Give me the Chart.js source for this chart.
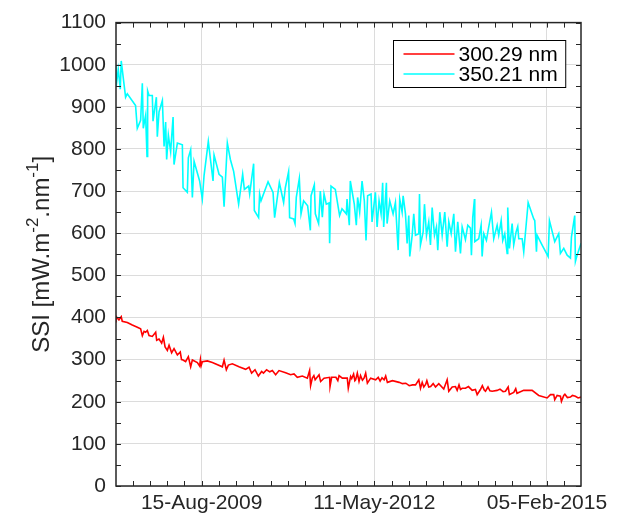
<!DOCTYPE html>
<html>
<head>
<meta charset="utf-8">
<script src="https://cdn.jsdelivr.net/npm/chart.js@4.4.1/dist/chart.umd.min.js"></script>
<style>
  html, body { margin: 0; padding: 0; background: #fff; }
</style>
</head>
<body>
<canvas id="ssiChart" width="623" height="516"></canvas>
<script>
// series labels + colours
const seriesLabels = ['300.29 nm', '350.21 nm'];
const seriesColors = ['#ff0000', '#00ffff'];

// 300.29 nm, dates as decimal years
const redYears = [
  2008.262, 2008.266, 2008.309, 2008.345, 2008.361, 2008.441, 2008.520, 2008.600, 2008.652, 2008.679,
  2008.706, 2008.731, 2008.758, 2008.785, 2008.837, 2008.890, 2008.906, 2008.943, 2008.985, 2009.012,
  2009.039, 2009.075, 2009.102, 2009.143, 2009.181, 2009.234, 2009.280, 2009.300, 2009.324, 2009.365,
  2009.408, 2009.445, 2009.472, 2009.551, 2009.587, 2009.600, 2009.612, 2009.630, 2009.710, 2009.789,
  2009.948, 2009.975, 2010.011, 2010.043, 2010.106, 2010.212, 2010.317, 2010.371, 2010.412, 2010.466,
  2010.519, 2010.571, 2010.600, 2010.650, 2010.700, 2010.741, 2010.793, 2010.847, 2010.952, 2011.031,
  2011.085, 2011.137, 2011.217, 2011.296, 2011.332, 2011.348, 2011.375, 2011.400, 2011.420, 2011.482,
  2011.507, 2011.561, 2011.650, 2011.656, 2011.682, 2011.750, 2011.780, 2011.800, 2011.851, 2011.930,
  2011.946, 2011.983, 2012.000, 2012.030, 2012.050, 2012.062, 2012.089, 2012.116, 2012.140, 2012.170,
  2012.195, 2012.221, 2012.248, 2012.300, 2012.379, 2012.420, 2012.450, 2012.480, 2012.513, 2012.538,
  2012.565, 2012.645, 2012.751, 2012.803, 2012.856, 2012.910, 2012.962, 2013.010, 2013.062, 2013.089,
  2013.116, 2013.141, 2013.170, 2013.190, 2013.220, 2013.250, 2013.290, 2013.327, 2013.379, 2013.458,
  2013.512, 2013.538, 2013.592, 2013.644, 2013.671, 2013.700, 2013.723, 2013.750, 2013.802, 2013.850,
  2013.909, 2013.961, 2013.988, 2014.040, 2014.070, 2014.100, 2014.120, 2014.160, 2014.190, 2014.226,
  2014.305, 2014.350, 2014.400, 2014.437, 2014.480, 2014.500, 2014.569, 2014.600, 2014.620, 2014.648,
  2014.727, 2014.807, 2014.860, 2014.965, 2015.098, 2015.151, 2015.203, 2015.219, 2015.257, 2015.309,
  2015.325, 2015.362, 2015.380, 2015.420, 2015.468, 2015.500, 2015.547, 2015.590, 2015.637
];
const redValues = [
  388, 402, 394, 402, 391, 388, 382, 377, 373, 357,
  367, 365, 369, 357, 355, 365, 346, 349, 339, 353,
  330, 322, 334, 316, 326, 311, 318, 300, 299, 295,
  307, 283, 299, 293, 285, 300, 286, 295, 297, 293,
  283, 299, 276, 287, 290, 283, 277, 282, 268, 276,
  261, 272, 268, 276, 271, 274, 264, 274, 269, 264,
  266, 258, 261, 256, 274, 238, 256, 262, 252, 264,
  248, 256, 258, 236, 258, 258, 250, 262, 256, 256,
  232, 260, 255, 266, 250, 252, 268, 248, 262, 251,
  256, 268, 244, 256, 252, 258, 249, 257, 252, 261,
  246, 250, 246, 243, 244, 238, 240, 240, 252, 232,
  246, 235, 241, 250, 235, 236, 243, 235, 243, 230,
  252, 225, 235, 236, 227, 240, 229, 232, 232, 236,
  227, 229, 217, 229, 238, 228, 225, 235, 226, 225,
  227, 230, 224, 225, 235, 217, 222, 231, 220, 222,
  227, 227, 227, 215, 209, 217, 217, 205, 215, 213,
  201, 215, 218, 210, 211, 215, 213, 209, 211
];

// 350.21 nm, dates as decimal years
const cyanYears = [
  2008.262, 2008.266, 2008.298, 2008.330, 2008.345, 2008.414, 2008.441, 2008.572, 2008.599, 2008.652,
  2008.679, 2008.694, 2008.731, 2008.753, 2008.763, 2008.785, 2008.837, 2008.848, 2008.901, 2008.916,
  2008.943, 2008.996, 2009.023, 2009.048, 2009.064, 2009.091, 2009.127, 2009.166, 2009.181, 2009.234,
  2009.313, 2009.324, 2009.392, 2009.408, 2009.445, 2009.472, 2009.499, 2009.587, 2009.630, 2009.657,
  2009.725, 2009.800, 2009.816, 2009.895, 2009.948, 2009.975, 2010.027, 2010.075, 2010.127, 2010.206,
  2010.270, 2010.297, 2010.365, 2010.381, 2010.444, 2010.455, 2010.523, 2010.539, 2010.561, 2010.673,
  2010.752, 2010.777, 2010.852, 2010.920, 2010.947, 2010.999, 2011.015, 2011.079, 2011.101, 2011.121,
  2011.169, 2011.196, 2011.237, 2011.301, 2011.344, 2011.355, 2011.407, 2011.423, 2011.475, 2011.502,
  2011.534, 2011.561, 2011.597, 2011.640, 2011.650, 2011.672, 2011.740, 2011.808, 2011.846, 2011.915,
  2011.926, 2011.962, 2011.978, 2012.041, 2012.073, 2012.094, 2012.126, 2012.164, 2012.200, 2012.227,
  2012.252, 2012.306, 2012.322, 2012.375, 2012.402, 2012.433, 2012.465, 2012.490, 2012.506, 2012.549,
  2012.560, 2012.602, 2012.655, 2012.692, 2012.735, 2012.760, 2012.798, 2012.814, 2012.851, 2012.877,
  2012.903, 2012.919, 2012.957, 2012.982, 2013.009, 2013.062, 2013.073, 2013.088, 2013.131, 2013.152,
  2013.184, 2013.220, 2013.247, 2013.274, 2013.311, 2013.342, 2013.363, 2013.395, 2013.433, 2013.474,
  2013.512, 2013.538, 2013.576, 2013.617, 2013.644, 2013.680, 2013.723, 2013.750, 2013.802, 2013.839,
  2013.882, 2013.897, 2013.918, 2013.945, 2013.950, 2014.013, 2014.051, 2014.067, 2014.093, 2014.135,
  2014.172, 2014.215, 2014.251, 2014.305, 2014.330, 2014.369, 2014.394, 2014.426, 2014.464, 2014.473,
  2014.500, 2014.543, 2014.568, 2014.606, 2014.632, 2014.648, 2014.702, 2014.727, 2014.797, 2014.849,
  2014.886, 2014.902, 2014.929, 2014.940, 2015.019, 2015.114, 2015.135, 2015.219, 2015.282, 2015.309,
  2015.362, 2015.416, 2015.468, 2015.484, 2015.536, 2015.547, 2015.574, 2015.637
];
const cyanValues = [
  997, 950, 989, 942, 1009, 923, 931, 903, 849, 868,
  956, 849, 880, 782, 938, 927, 927, 866, 923, 829,
  888, 915, 806, 864, 775, 833, 794, 876, 763, 814,
  810, 708, 697, 779, 798, 685, 771, 724, 681, 736,
  818, 724, 786, 740, 733, 663, 814, 775, 747, 669,
  740, 704, 712, 693, 765, 654, 637, 693, 677, 722,
  697, 637, 720, 673, 708, 746, 637, 634, 623, 685,
  730, 646, 677, 665, 607, 689, 715, 646, 623, 700,
  638, 693, 669, 672, 576, 712, 704, 642, 658, 646,
  681, 619, 724, 669, 619, 685, 650, 724, 677, 583,
  689, 693, 627, 697, 615, 677, 646, 720, 615, 720,
  623, 677, 646, 673, 560, 681, 650, 689, 646, 576,
  642, 545, 595, 646, 595, 599, 693, 572, 603, 669,
  595, 627, 572, 661, 595, 615, 560, 650, 595, 650,
  568, 627, 599, 646, 556, 627, 552, 615, 585, 619,
  612, 548, 638, 681, 580, 587, 619, 545, 599, 583,
  615, 650, 587, 619, 595, 630, 583, 599, 552, 661,
  564, 623, 572, 603, 616, 587, 587, 556, 673, 650,
  634, 630, 556, 595, 572, 545, 630, 580, 599, 552,
  564, 548, 541, 591, 642, 533, 548, 576
];

// axes
const xMinDate = '2008-04-06';
const xMaxDate = '2015-08-21';
const xTickDates = ['2009-08-15', '2012-05-11', '2015-02-05'];
const xMinorDays = 100;
const yMin = 0, yMax = 1100, yStep = 100, yMinorStep = 50;
const yTitleParts = [
  { text: 'SSI [mW.m' }, { text: '-2', sup: true }, { text: '.nm' }, { text: '-1', sup: true }, { text: ']' }
];
const monthNames = ['Jan', 'Feb', 'Mar', 'Apr', 'May', 'Jun', 'Jul', 'Aug', 'Sep', 'Oct', 'Nov', 'Dec'];

const DAY = 86400000;
const fontFamily = '"Liberation Sans", Arial, Helvetica, sans-serif';
const inkColor = '#262626';
const gridColor = '#dcdcdc';

function yearToMs(y) {
  const yr = Math.floor(y);
  const a = Date.UTC(yr, 0, 1), b = Date.UTC(yr + 1, 0, 1);
  return a + (y - yr) * (b - a);
}
function fmtDate(ms) {
  const d = new Date(ms);
  const dd = String(d.getUTCDate()).padStart(2, '0');
  return dd + '-' + monthNames[d.getUTCMonth()] + '-' + d.getUTCFullYear();
}
function toPoints(xs, ys) {
  return xs.map((x, i) => ({ x: yearToMs(x), y: ys[i] }));
}

const xMin = Date.parse(xMinDate);
const xMax = Date.parse(xMaxDate);

// MATLAB style box, inward ticks, legend box and y label with superscripts
const matlabAxes = {
  id: 'matlabAxes',
  afterDraw(chart) {
    const ctx = chart.ctx, a = chart.chartArea;
    const xs = chart.scales.x, ys = chart.scales.y;
    const tickLen = 5;
    ctx.save();
    ctx.strokeStyle = inkColor;
    ctx.lineWidth = 1;
    ctx.beginPath();
    for (let v = yMin; v <= yMax; v += yMinorStep) {
      const p = Math.round(ys.getPixelForValue(v)) + 0.5;
      ctx.moveTo(a.left, p); ctx.lineTo(a.left + tickLen, p);
      ctx.moveTo(a.right, p); ctx.lineTo(a.right - tickLen, p);
    }
    let t = Date.parse(xTickDates[0]);
    while (t - xMinorDays * DAY >= xMin) t -= xMinorDays * DAY;
    for (; t <= xMax; t += xMinorDays * DAY) {
      const p = Math.round(xs.getPixelForValue(t)) + 0.5;
      ctx.moveTo(p, a.bottom); ctx.lineTo(p, a.bottom - tickLen);
      ctx.moveTo(p, a.top); ctx.lineTo(p, a.top + tickLen);
    }
    ctx.stroke();
    ctx.lineWidth = 1.5;
    ctx.strokeRect(a.left, a.top, a.right - a.left, a.bottom - a.top);

    // legend
    ctx.font = '21px ' + fontFamily;
    const ds = chart.data.datasets;
    let tw = 0;
    ds.forEach(d => { tw = Math.max(tw, ctx.measureText(d.label).width); });
    const lineLen = 51, rowH = 20;
    const boxW = 10 + lineLen + 4 + tw + 8;
    const boxH = ds.length * rowH + 7;
    const bx = Math.round(a.right - 16 - boxW) + 0.5, by = Math.round(a.top + 17) + 0.5;
    ctx.fillStyle = '#fff';
    ctx.fillRect(bx, by, boxW, boxH);
    ctx.lineWidth = 1;
    ctx.strokeStyle = '#000';
    ctx.strokeRect(bx, by, boxW, boxH);
    ctx.textBaseline = 'middle';
    ds.forEach((d, i) => {
      const cy = by + 13.5 + i * rowH;
      ctx.strokeStyle = d.borderColor;
      ctx.lineWidth = 1.6;
      ctx.beginPath();
      ctx.moveTo(bx + 10, cy); ctx.lineTo(bx + 10 + lineLen, cy);
      ctx.stroke();
      ctx.fillStyle = '#000';
      ctx.fillText(d.label, bx + 10 + lineLen + 4, cy + 1);
    });

    // y axis label
    ctx.translate(49, (a.top + a.bottom) / 2);
    ctx.rotate(-Math.PI / 2);
    ctx.fillStyle = inkColor;
    ctx.textBaseline = 'alphabetic';
    const fontFor = p => (p.sup ? '17px ' : '24px ') + fontFamily;
    let total = 0;
    yTitleParts.forEach(p => { ctx.font = fontFor(p); total += ctx.measureText(p.text).width; });
    let u = -total / 2;
    yTitleParts.forEach(p => {
      ctx.font = fontFor(p);
      ctx.fillText(p.text, u, p.sup ? -11 : 0);
      u += ctx.measureText(p.text).width;
    });
    ctx.restore();
  }
};

new Chart(document.getElementById('ssiChart'), {
  type: 'line',
  data: {
    datasets: [
      {
        label: seriesLabels[0],
        data: toPoints(redYears, redValues),
        borderColor: seriesColors[0],
        borderWidth: 1.6,
        pointRadius: 0,
        tension: 0
      },
      {
        label: seriesLabels[1],
        data: toPoints(cyanYears, cyanValues),
        borderColor: seriesColors[1],
        borderWidth: 1.6,
        pointRadius: 0,
        tension: 0
      }
    ]
  },
  options: {
    responsive: false,
    animation: false,
    devicePixelRatio: 1,
    layout: { padding: { left: 0, right: 42, top: 16, bottom: 0 } },
    plugins: {
      legend: { display: false },
      tooltip: { enabled: false }
    },
    scales: {
      x: {
        type: 'linear',
        min: xMin,
        max: xMax,
        afterBuildTicks: s => { s.ticks = xTickDates.map(d => ({ value: Date.parse(d) })); },
        afterFit: s => { s.height = 30; },
        grid: { color: gridColor, drawTicks: false },
        border: { display: false },
        ticks: {
          autoSkip: false,
          maxRotation: 0,
          padding: 5,
          color: inkColor,
          font: { family: fontFamily, size: 21 },
          callback: v => fmtDate(v)
        }
      },
      y: {
        min: yMin,
        max: yMax,
        afterFit: s => { s.width = 116; },
        grid: { color: gridColor, drawTicks: false },
        border: { display: false },
        ticks: {
          stepSize: yStep,
          autoSkip: false,
          padding: 10,
          color: inkColor,
          font: { family: fontFamily, size: 21 },
          callback: v => String(v)
        }
      }
    }
  },
  plugins: [matlabAxes]
});
</script>
</body>
</html>
